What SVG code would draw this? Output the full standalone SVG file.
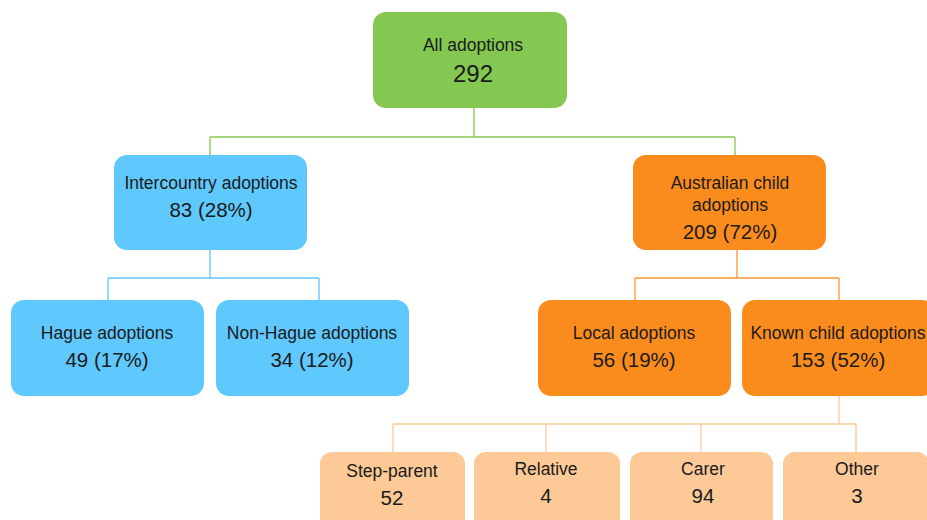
<svg xmlns="http://www.w3.org/2000/svg" width="927" height="520" viewBox="0 0 927 520">
<style>
text{font-family:"Liberation Sans",Arial,sans-serif;fill:#1a1a1a;text-anchor:middle}
.l{font-size:17.5px}
.n{font-size:20.5px}
.g{fill:#84c852}
.b{fill:#5fc8fd}
.o{fill:#fa8c1d}
.p{fill:#fdc996}
.c{fill:none;stroke-width:1.3}
</style>
<rect width="927" height="520" fill="#fff"/>
<g id="connectors">
<path class="c" stroke="#84c852" d="M474 108V137M210 137H735M210 137V155M735 137V155"/>
<path class="c" stroke="#5fc8fd" d="M210 250V278M108 278H319M108 278V300M319 278V300"/>
<path class="c" stroke="#fa9535" d="M737 250V278M635 278H839M635 278V300M839 278V300"/>
<path class="c" stroke="#fcc99a" d="M839 396V424M393 424H856M393 424V452M546 424V452M701 424V452M856 424V452"/>
</g>
<g id="all"><rect class="g" x="373" y="12" width="194" height="96" rx="13"/><text class="l" x="473" y="51">All adoptions</text><text x="473" y="82" font-size="24px">292</text></g>
<g id="intercountry"><rect class="b" x="114" y="155" width="193" height="95" rx="13"/><text class="l" x="211" y="189">Intercountry adoptions</text><text class="n" x="211" y="217">83 (28%)</text></g>
<g id="australian"><rect class="o" x="633" y="155" width="193" height="95" rx="13"/><text class="l" x="730" y="189">Australian child</text><text class="l" x="730" y="211">adoptions</text><text class="n" x="730" y="239">209 (72%)</text></g>
<g id="hague"><rect class="b" x="11" y="300" width="193" height="96" rx="13"/><text class="l" x="107" y="339">Hague adoptions</text><text class="n" x="107" y="367">49 (17%)</text></g>
<g id="nonhague"><rect class="b" x="216" y="300" width="193" height="96" rx="13"/><text class="l" x="312" y="339">Non-Hague adoptions</text><text class="n" x="312" y="367">34 (12%)</text></g>
<g id="local"><rect class="o" x="538" y="300" width="193" height="96" rx="13"/><text class="l" x="634" y="339">Local adoptions</text><text class="n" x="634" y="367">56 (19%)</text></g>
<g id="known"><rect class="o" x="742" y="300" width="193" height="96" rx="13"/><text class="l" x="838" y="339">Known child adoptions</text><text class="n" x="838" y="367">153 (52%)</text></g>
<g id="stepparent"><rect class="p" x="320" y="452" width="145" height="80" rx="12"/><text class="l" x="392" y="477">Step-parent</text><text class="n" x="392" y="505">52</text></g>
<g id="relative"><rect class="p" x="474" y="452" width="146" height="80" rx="12"/><text class="l" x="546" y="475">Relative</text><text class="n" x="546" y="503">4</text></g>
<g id="carer"><rect class="p" x="630" y="452" width="143" height="80" rx="12"/><text class="l" x="703" y="475">Carer</text><text class="n" x="703" y="503">94</text></g>
<g id="other"><rect class="p" x="783" y="452" width="146" height="80" rx="12"/><text class="l" x="857" y="475">Other</text><text class="n" x="857" y="503">3</text></g>
</svg>
